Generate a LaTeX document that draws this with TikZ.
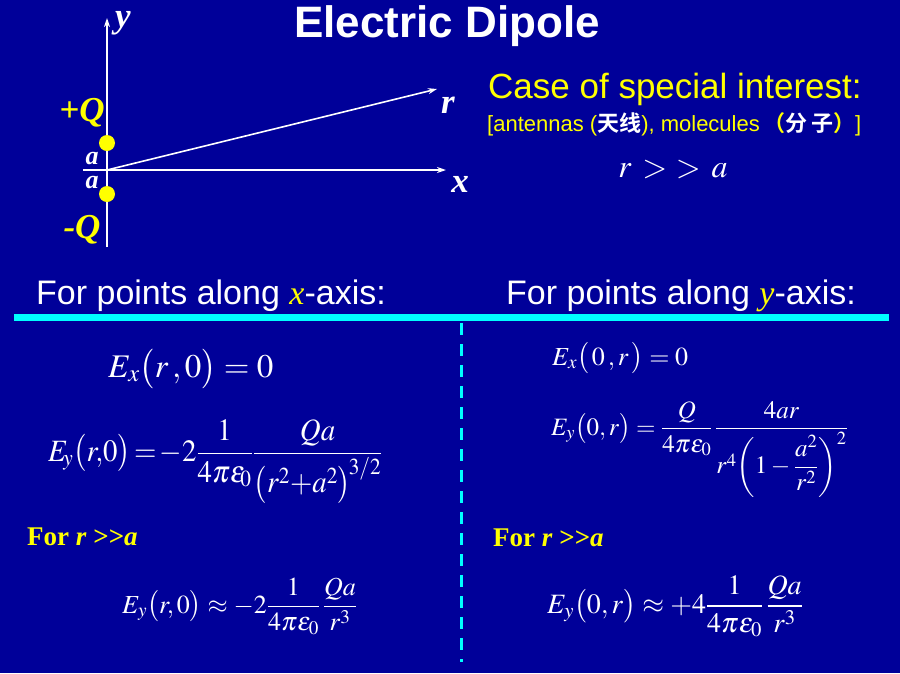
\documentclass[tikz,border=0pt]{standalone}
\usepackage{amsmath}
\usepackage{mathptmx}
\usepackage{graphicx}
\usepackage[no-math]{fontspec}
\setmainfont{Liberation Serif}
\setsansfont{Liberation Sans}
\newfontfamily\cjk{Noto Sans CJK SC Bold}
\usetikzlibrary{arrows.meta}
\definecolor{bg}{HTML}{000099}
\definecolor{cyanline}{HTML}{00FFFF}
\definecolor{yel}{HTML}{FFFF00}
\newcommand{\fsz}[1]{\fontsize{#1}{#1}\selectfont}
\tikzset{
  axis/.style={white, line width=1.6pt, -{Stealth[length=9pt,width=6pt]}},
  lbl/.style={white, font=\rmfamily\bfseries\itshape\fsz{35}, inner sep=0pt, anchor=base},
  qlbl/.style={yel, font=\rmfamily\bfseries\itshape\fsz{35}, inner sep=0pt, anchor=base},
  alb/.style={white, font=\rmfamily\bfseries\itshape\fsz{26}, inner sep=0pt, anchor=base},
  charge/.style={circle, fill=yel, draw=none, minimum size=16pt, inner sep=0pt},
  eq/.style={white, inner sep=0pt, anchor=base west},
  head/.style={white, font=\sffamily\fsz{34}, inner sep=0pt, anchor=base west},
  forr/.style={yel, font=\rmfamily\bfseries\fsz{27}, inner sep=0pt, anchor=base west},
}
\begin{document}
\begin{tikzpicture}[x=1pt,y=-1pt]
\fill[bg] (0,0) rectangle (900,673);
\useasboundingbox (0,0) rectangle (900,673);

% title
\node[white, font=\sffamily\bfseries\fsz{44}, inner sep=0pt] (title) at (447,26) {Electric Dipole};

% axes
\coordinate (O) at (107,170);
\coordinate (ytop) at (107,18);
\coordinate (ybot) at (107,247);
\coordinate (xl) at (83,170);
\coordinate (xtip) at (446,170);
\coordinate (rtip) at (437,89);
\draw[axis] (ybot) -- (ytop);
\draw[axis] (xl) -- (xtip);
\draw[axis] (O) -- (rtip);
\node[lbl] (ylab) at (123,27) {y};
\node[lbl] (rlab) at (448,113) {r};
\node[lbl] (xlab) at (460,192) {x};
\node[charge] (qp) at (107,143) {};
\node[charge] (qm) at (107,194) {};
\node[qlbl] (qplab) at (82,121) {+Q};
\node[qlbl] (qmlab) at (82,238) {-Q};
\node[alb] (a1) at (92,164) {a};
\node[alb] (a2) at (92,188) {a};

% case of special interest
\node[yel, font=\sffamily\fsz{35}, inner sep=0pt, anchor=base west] (case) at (488,98) {Case of special interest:};
\node[yel, font=\sffamily\fsz{22}, inner sep=0pt, anchor=base west] (ant) at (487,131)
  {[antennas (\textcolor{white}{\cjk 天线}), molecules\,{\cjk （}\textcolor{white}{\cjk 分\,子}{\cjk ）}]};
\node[white, inner sep=0pt, anchor=base, font=\fsz{32}] (rgg) at (673,177) {$r\mkern6mu{>}\mkern5mu{>}\mkern6mu a$};

% headings
\node[head] (hx) at (36,304) {For points along \textcolor{yel}{\rmfamily\itshape x}-axis:};
\node[head] (hy) at (506,304) {For points along \textcolor{yel}{\rmfamily\itshape y}-axis:};

% rules
\coordinate (hl) at (14,317);
\coordinate (hr) at (889,317);
\draw[cyanline, line width=7pt] (hl) -- (hr);
\coordinate (vt) at (461,323);
\coordinate (vb) at (461,662);
\draw[cyanline, line width=3pt, dash pattern=on 12pt off 9pt] (vt) -- (vb);

% left equations
\node[eq, font=\fsz{33}] (l1) at (108,377) {$E_x\bigl(r\,,0\bigr) = 0$};
\node[eq, font=\fsz{31}] (l2) at (48,461)
  {\scalebox{0.93}[1]{$E_{\!y}\bigl(r,\!0\bigr)\mkern2mu{=}\mkern2mu{-}2\dfrac{1}{4\pi\varepsilon_{\!0}}\dfrac{Qa}{\bigl(r^2{+}a^2\bigr)^{\!3/2}}$}};
\node[forr] (f1) at (27,545) {For \textit{r} {>}{>}\textit{a}};
\node[eq, font=\fsz{26}] (l3) at (122,613)
  {$E_y\bigl(r,0\bigr)\approx -2\dfrac{1}{4\pi\varepsilon_0}\,\dfrac{Qa}{r^3}$};

% right equations
\node[eq, font=\fsz{26}] (r1) at (552,365) {$E_x\bigl(\,0\,,r\,\bigr) = 0$};
\node[eq, font=\fsz{25}] (r2) at (551,435)
  {$E_y\bigl(0,r\bigr) = \dfrac{Q}{4\pi\varepsilon_0}\,\dfrac{4ar}{r^4\biggl(1-\dfrac{a^2}{r^2}\biggr)^2}$};
\node[forr] (f2) at (493,546) {For \textit{r} {>}{>}\textit{a}};
\node[eq, font=\fsz{28}] (r3) at (547,613)
  {$E_y\bigl(0,r\bigr)\approx +4\dfrac{1}{4\pi\varepsilon_0}\,\dfrac{Qa}{r^3}$};
\end{tikzpicture}
\end{document}
